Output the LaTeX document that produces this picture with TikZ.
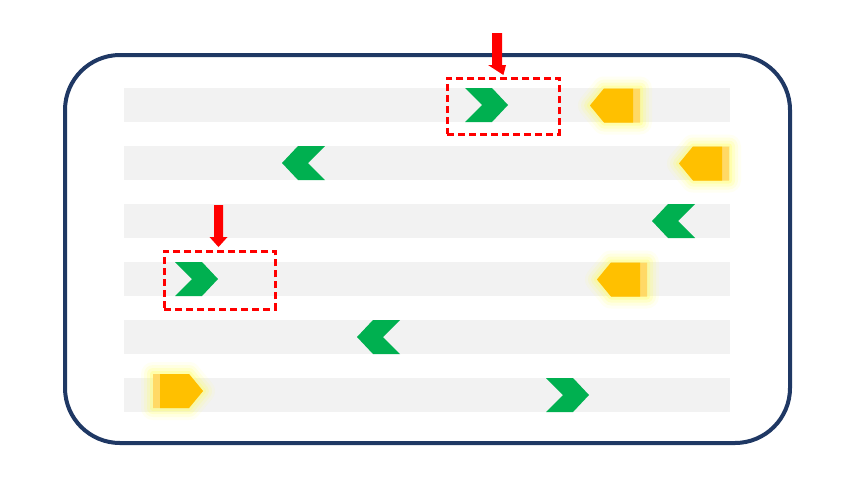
\documentclass[tikz,border=0pt]{standalone}
\usetikzlibrary{calc}
\definecolor{navy}{HTML}{1F3864}
\definecolor{lane}{HTML}{F2F2F2}
\definecolor{grn}{HTML}{00B050}
\definecolor{ylw}{HTML}{FFC000}
\definecolor{ylwlt}{HTML}{FFD966}
\definecolor{glow}{HTML}{FFFF66}
\tikzset{
  lanebar/.style={fill=lane,draw=none},
  chev/.style={fill=grn,draw=none},
  focusbox/.style={draw=red,line width=2.8pt,dash pattern=on 7pt off 4pt},
  pointer/.style={fill=red,draw=none},
  pics/chevR/.style={code={\fill[chev] (0,-17)--(27,-17)--(43,0)--(27,17)--(0,17)--(17,0)--cycle;}},
  pics/chevL/.style={code={\fill[chev] (0,-17)--(-27,-17)--(-43,0)--(-27,17)--(0,17)--(-17,0)--cycle;}},
  pics/carL/.style={code={
    \foreach \w/\o in {24/0.08,18/0.12,12/0.18,6/0.3}{
      \draw[glow,line width=\w pt,opacity=\o,line join=round] (0,0)--(14,-17)--(50,-17)--(50,17)--(14,17)--cycle;}
    \fill[ylwlt] (0,0)--(14,-17)--(50,-17)--(50,17)--(14,17)--cycle;
    \fill[ylw] (0,0)--(14,-17)--(43,-17)--(43,17)--(14,17)--cycle;}},
  pics/carR/.style={code={
    \foreach \w/\o in {24/0.08,18/0.12,12/0.18,6/0.3}{
      \draw[glow,line width=\w pt,opacity=\o,line join=round] (0,0)--(-14,-17)--(-50,-17)--(-50,17)--(-14,17)--cycle;}
    \fill[ylwlt] (0,0)--(-14,-17)--(-50,-17)--(-50,17)--(-14,17)--cycle;
    \fill[ylw] (0,0)--(-14,-17)--(-43,-17)--(-43,17)--(-14,17)--cycle;}}
}
\begin{document}
\begin{tikzpicture}[x=1pt,y=-1pt]
\useasboundingbox (0,0) rectangle (853,480);
\fill[white] (0,0) rectangle (853,480);
% outer frame
\draw[navy,line width=4pt,rounded corners=55pt] (65,55) rectangle (790,443);
% lanes
\foreach \c in {105,163,221,279,337,395}{
  \fill[lanebar] (124,\c-17) rectangle (730,\c+17);}
% green chevrons
\pic at (465,105) {chevR};
\pic at (325,163) {chevL};
\pic at (695,221) {chevL};
\pic at (175,279) {chevR};
\pic at (400,337) {chevL};
\pic at (546,395) {chevR};
% yellow cars
\pic at (590,105.5) {carL};
\pic at (679,163.5) {carL};
\pic at (597,279.5) {carL};
\pic at (203,391) {carR};
% focus boxes
\node[focusbox,minimum width=112pt,minimum height=56pt,inner sep=0pt,anchor=north west] (box1) at (446,77) {};
\node[focusbox,minimum width=111pt,minimum height=58pt,inner sep=0pt,anchor=north west] (box2) at (163,250) {};
% red pointers
\coordinate (p1) at (497,33);
\coordinate (p2) at (218.5,205);
\fill[pointer] (p1) ++(-5,0) -- ++(10,0) -- ++(0,32) -- ++(4,0) -- ($(box1.north)+(0,-2)$) -- ($(p1)+(-9,32)$) -- ++(4,0) -- cycle;
\fill[pointer] (p2) ++(-4.5,0) -- ++(9,0) -- ++(0,32) -- ++(4.5,0) -- ($(p2)+(0,42)$) -- ($(p2)+(-9,32)$) -- ++(4.5,0) -- cycle;
\end{tikzpicture}
\end{document}
